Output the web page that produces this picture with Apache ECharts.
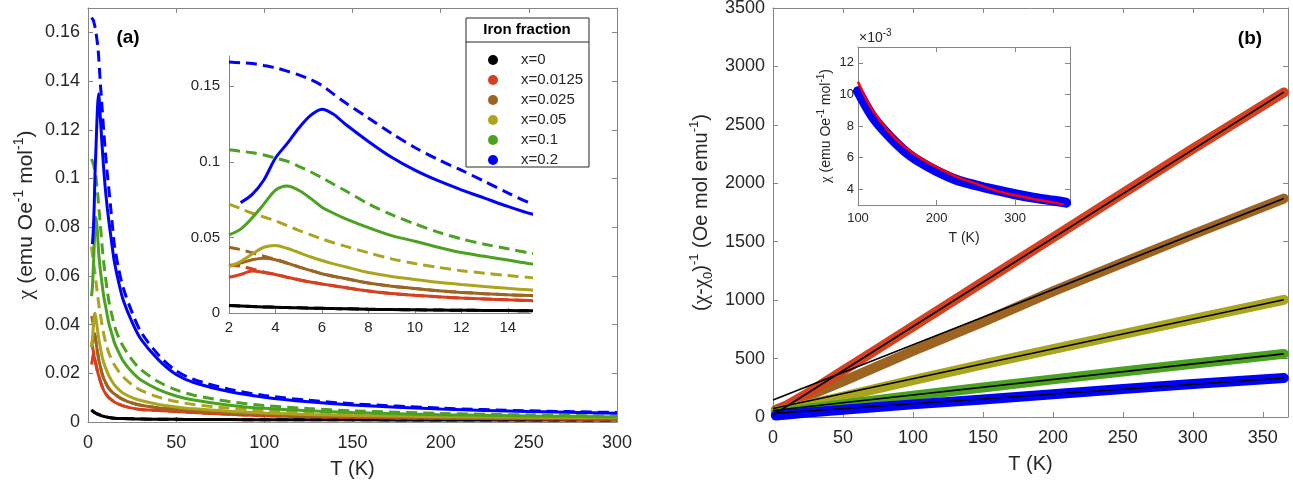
<!DOCTYPE html>
<html>
<head>
<meta charset="utf-8">
<script src="https://cdn.jsdelivr.net/npm/echarts@6/dist/echarts.min.js"></script>
<style>
html, body { margin: 0; padding: 0; background: #fff; }
#chart { width: 1293px; height: 482px; }
</style>
</head>
<body>
<div id="chart"></div>
<script>
// ---- panel (a): chi(T), solid = ZFC, dashed = FC ----
var tempA = [2, 2.5, 3, 3.5, 4, 4.5, 5, 5.5, 6, 6.5, 7, 8, 9, 10, 11, 12, 13, 14, 15, 17.5, 20, 25, 30, 40, 50, 60, 80, 100, 125, 150, 200, 250, 300];

var zfcX0 = [0.0049, 0.0046, 0.0043, 0.0040, 0.0038, 0.0036, 0.0034, 0.0032, 0.0031, 0.0029, 0.0028, 0.0025, 0.0023, 0.0021, 0.0020, 0.0018, 0.0017, 0.0016, 0.0015, 0.0014, 0.0014, 0.0013, 0.0012, 0.0011, 0.0011, 0.0010, 0.0010, 0.0009, 0.0009, 0.0009, 0.0008, 0.0008, 0.0008];
var fcX0 = [0.0050, 0.0046, 0.0043, 0.0040, 0.0038, 0.0036, 0.0034, 0.0032, 0.0031, 0.0029, 0.0028, 0.0025, 0.0023, 0.0021, 0.0020, 0.0018, 0.0017, 0.0016, 0.0015, 0.0014, 0.0014, 0.0013, 0.0012, 0.0011, 0.0011, 0.0010, 0.0010, 0.0009, 0.0009, 0.0009, 0.0008, 0.0008, 0.0008];

var zfcX0125 = [0.0236, 0.0255, 0.0278, 0.0268, 0.0255, 0.0237, 0.0220, 0.0205, 0.0192, 0.0180, 0.0168, 0.0146, 0.0129, 0.0117, 0.0107, 0.0099, 0.0093, 0.0087, 0.0082, 0.0073, 0.0066, 0.0057, 0.0051, 0.0047, 0.0043, 0.0039, 0.0032, 0.0026, 0.0022, 0.0019, 0.0015, 0.0013, 0.0011];
var fcX0125 = [0.0318, 0.0310, 0.0292, 0.0272, 0.0255, 0.0237, 0.0220, 0.0205, 0.0192, 0.0180, 0.0168, 0.0146, 0.0129, 0.0117, 0.0107, 0.0099, 0.0093, 0.0087, 0.0082, 0.0073, 0.0066, 0.0057, 0.0051, 0.0047, 0.0043, 0.0039, 0.0032, 0.0026, 0.0022, 0.0019, 0.0015, 0.0013, 0.0011];

var zfcX025 = [0.0310, 0.0330, 0.0352, 0.0362, 0.0352, 0.0330, 0.0305, 0.0282, 0.0260, 0.0243, 0.0228, 0.0198, 0.0177, 0.0162, 0.0147, 0.0136, 0.0128, 0.0121, 0.0115, 0.0102, 0.0092, 0.0078, 0.0069, 0.0058, 0.0052, 0.0046, 0.0037, 0.0031, 0.0026, 0.0023, 0.0018, 0.0015, 0.0013];
var fcX025 = [0.0435, 0.0420, 0.0398, 0.0375, 0.0356, 0.0330, 0.0305, 0.0282, 0.0260, 0.0243, 0.0228, 0.0198, 0.0177, 0.0162, 0.0147, 0.0136, 0.0128, 0.0121, 0.0115, 0.0102, 0.0092, 0.0078, 0.0069, 0.0058, 0.0052, 0.0046, 0.0037, 0.0031, 0.0026, 0.0023, 0.0018, 0.0015, 0.0013];

var zfcX05 = [0.0307, 0.0340, 0.0390, 0.0435, 0.0447, 0.0428, 0.0400, 0.0372, 0.0347, 0.0325, 0.0306, 0.0268, 0.0242, 0.0222, 0.0203, 0.0188, 0.0175, 0.0163, 0.0152, 0.0133, 0.0118, 0.0100, 0.0088, 0.0072, 0.0062, 0.0054, 0.0044, 0.0037, 0.0031, 0.0027, 0.0022, 0.0019, 0.0017];
var fcX05 = [0.0720, 0.0690, 0.0660, 0.0635, 0.0610, 0.0578, 0.0547, 0.0518, 0.0490, 0.0465, 0.0442, 0.0398, 0.0358, 0.0327, 0.0302, 0.0280, 0.0263, 0.0248, 0.0234, 0.0207, 0.0185, 0.0153, 0.0130, 0.0102, 0.0084, 0.0072, 0.0057, 0.0047, 0.0039, 0.0033, 0.0026, 0.0022, 0.0019];

var zfcX1 = [0.0517, 0.0555, 0.0630, 0.0720, 0.0812, 0.0840, 0.0812, 0.0760, 0.0700, 0.0660, 0.0625, 0.0565, 0.0512, 0.0475, 0.0435, 0.0400, 0.0375, 0.0350, 0.0325, 0.0285, 0.0250, 0.0205, 0.0172, 0.0133, 0.0107, 0.0090, 0.0069, 0.0056, 0.0046, 0.0039, 0.0030, 0.0025, 0.0021];
var fcX1 = [0.1080, 0.1070, 0.1060, 0.1045, 0.1025, 0.1005, 0.0970, 0.0935, 0.0895, 0.0852, 0.0810, 0.0722, 0.0650, 0.0590, 0.0535, 0.0490, 0.0455, 0.0425, 0.0395, 0.0345, 0.0310, 0.0255, 0.0215, 0.0165, 0.0132, 0.0110, 0.0084, 0.0068, 0.0055, 0.0046, 0.0035, 0.0029, 0.0024];

var zfcX2 = [null, 0.0730, 0.0785, 0.0880, 0.1025, 0.1120, 0.1222, 0.1305, 0.1348, 0.1315, 0.1250, 0.1135, 0.1030, 0.0945, 0.0875, 0.0815, 0.0760, 0.0705, 0.0656, 0.0570, 0.0500, 0.0410, 0.0340, 0.0255, 0.0195, 0.0162, 0.0125, 0.0102, 0.0083, 0.0070, 0.0053, 0.0043, 0.0036];
var fcX2 = [0.1660, 0.1655, 0.1650, 0.1637, 0.1622, 0.1600, 0.1575, 0.1545, 0.1505, 0.1448, 0.1392, 0.1290, 0.1188, 0.1095, 0.1015, 0.0945, 0.0870, 0.0795, 0.0726, 0.0625, 0.0550, 0.0450, 0.0370, 0.0275, 0.0210, 0.0175, 0.0135, 0.0109, 0.0089, 0.0075, 0.0057, 0.0046, 0.0039];

var fractions = ['x=0', 'x=0.0125', 'x=0.025', 'x=0.05', 'x=0.1', 'x=0.2'];

var insetATicksX = [2, 4, 6, 8, 10, 12, 14];
var insetATicksY = [0, 0.05, 0.1, 0.15];

// ---- panel (b): inverse susceptibility and linear fits ----
var tempB = [2, 10, 25, 50, 75, 100, 150, 200, 250, 300, 365];
var invX0125 = [50, 100, 205, 395, 585, 775, 1155, 1535, 1915, 2295, 2777];
var invX025 = [60, 100, 180, 305, 435, 565, 815, 1075, 1320, 1562, 1869];
var invX05 = [45, 65, 105, 175, 245, 315, 450, 580, 710, 838, 1003];
var invX1 = [30, 45, 70, 108, 145, 183, 253, 322, 390, 455, 540];
var invX2 = [12, 22, 38, 62, 85, 108, 150, 195, 240, 283, 334];

var fitT = [0, 365];
var fitX0125 = [17, 2780];
var fitX025 = [146, 1869];
var fitX05 = [72, 1003];
var fitX1 = [55, 540];
var fitX2 = [30, 334];

// inset (b): chi in units of 1e-3
var tempC = [100, 110, 120, 140, 160, 180, 200, 225, 250, 275, 300, 325, 350, 365];
var chiC = [10.2, 9.3, 8.5, 7.35, 6.4, 5.7, 5.15, 4.6, 4.25, 3.95, 3.68, 3.45, 3.27, 3.15];
var fitTempC = [100, 110, 120, 140, 160, 180, 200, 225, 250, 275, 300, 325, 350, 362];
var fitChiC = [10.8, 9.75, 8.9, 7.6, 6.65, 5.95, 5.4, 4.8, 4.35, 3.92, 3.62, 3.37, 3.15, 3.03];

var insetBTicksY = [4, 6, 8, 10, 12];
var insetBTicksX = [100, 200, 300];

var colors = ['#000000', '#d6401e', '#9c6420', '#aaa41e', '#4aa220', '#0000ff'];
var font = 'Liberation Sans';
var axisGray = '#858585';
var textDark = '#262626';

function pairs(xs, ys) {
    return xs.map(function (x, i) { return [x, ys[i]]; });
}

function axis(grid, position, o) {
    var a = {
        type: 'value',
        gridIndex: grid,
        position: position,
        min: o.min,
        max: o.max,
        splitLine: { show: false },
        axisLine: { show: true, onZero: false, lineStyle: { color: axisGray, width: 1 } },
        axisTick: { show: true, inside: true, length: 5, lineStyle: { color: axisGray } },
        axisLabel: {
            show: !!o.labels,
            fontSize: o.fontSize || 18,
            fontFamily: font,
            color: textDark,
            margin: o.margin || 8,
            showMaxLabel: o.showMax === false ? false : true,
            showMinLabel: true,
            formatter: function (v) { return String(v); }
        }
    };
    if (o.interval) a.interval = o.interval;
    if (o.ticks) {
        a.axisTick.customValues = o.ticks;
        a.axisLabel.customValues = o.ticks;
    }
    if (o.name) {
        a.name = o.name;
        a.nameLocation = 'middle';
        a.nameGap = o.nameGap;
        a.nameTextStyle = o.nameStyle;
    }
    return a;
}

function nameStyle(size, supSize, shift) {
    return {
        fontSize: size,
        fontFamily: font,
        color: textDark,
        rich: {
            chi: { fontSize: size + 1, fontFamily: 'Liberation Serif', color: textDark },
            sup: { fontSize: supSize, fontFamily: font, color: textDark, padding: [0, 0, shift, 0] },
            sub: { fontSize: supSize, fontFamily: font, color: textDark, padding: [shift, 0, 0, 0] }
        }
    };
}

var chiName = '{chi|χ} (emu Oe{sup|-1} mol{sup|-1})';
var tName = { fontSize: 20, fontFamily: font, color: textDark };

var xAxes = [
    axis(0, 'bottom', { min: 0, max: 300, interval: 50, labels: true, margin: 12, name: 'T (K)', nameGap: 37, nameStyle: tName }),
    axis(0, 'top', { min: 0, max: 300, interval: 50 }),
    axis(1, 'bottom', { min: 2, max: 15, ticks: insetATicksX, labels: true, fontSize: 15, margin: 7 }),
    axis(2, 'bottom', { min: 0, max: 368, interval: 50, labels: true, margin: 12, showMax: false, name: 'T (K)', nameGap: 37, nameStyle: tName }),
    axis(2, 'top', { min: 0, max: 368, interval: 50 }),
    axis(3, 'bottom', { min: 100, max: 370, ticks: insetBTicksX, labels: true, fontSize: 13, margin: 7, name: 'T (K)', nameGap: 26, nameStyle: { fontSize: 14, fontFamily: font, color: textDark } }),
    axis(3, 'top', { min: 100, max: 370, ticks: insetBTicksX })
];

var yAxes = [
    axis(0, 'left', { min: 0, max: 0.17, interval: 0.02, labels: true, showMax: false, name: chiName, nameGap: 48, nameStyle: nameStyle(21, 14, 14) }),
    axis(0, 'right', { min: 0, max: 0.17, interval: 0.02 }),
    axis(1, 'left', { min: 0, max: 0.17, ticks: insetATicksY, labels: true, fontSize: 15, margin: 9 }),
    axis(2, 'left', { min: 0, max: 3500, interval: 500, labels: true, name: '({chi|χ}-{chi|χ}{sub|0}){sup|-1} (Oe mol emu{sup|-1})', nameGap: 58, nameStyle: nameStyle(20, 13, 14) }),
    axis(2, 'right', { min: 0, max: 3500, interval: 500 }),
    axis(3, 'left', { min: 3, max: 13, ticks: insetBTicksY, labels: true, fontSize: 13, margin: 4, name: chiName, nameGap: 22, nameStyle: nameStyle(14, 10, 10) }),
    axis(3, 'right', { min: 3, max: 13, ticks: insetBTicksY })
];

var series = [];
var zfc = [zfcX0, zfcX0125, zfcX025, zfcX05, zfcX1, zfcX2];
var fc = [fcX0, fcX0125, fcX025, fcX05, fcX1, fcX2];

function chiLine(name, values, color, dashed, axisIdx) {
    return {
        type: 'line',
        name: name,
        xAxisIndex: axisIdx,
        yAxisIndex: axisIdx,
        data: pairs(tempA, values),
        symbol: 'none',
        smooth: 0.3,
        silent: true,
        itemStyle: { color: color },
        lineStyle: { color: color, width: 3, type: dashed ? [11, 6] : 'solid' }
    };
}

// main panel on axes 0, inset on axes 2
fractions.forEach(function (name, k) {
    series.push(chiLine(name, zfc[k], colors[k], false, 0));
    series.push(chiLine(name + ' FC', fc[k], colors[k], true, 0));
});
fractions.forEach(function (name, k) {
    series.push(chiLine(name + ' inset', zfc[k], colors[k], false, 2));
    series.push(chiLine(name + ' inset FC', fc[k], colors[k], true, 2));
});

var inv = [invX025, invX0125, invX05, invX1, invX2];
var invColors = [colors[2], colors[1], colors[3], colors[4], colors[5]];
inv.forEach(function (values, k) {
    series.push({
        type: 'line', xAxisIndex: 3, yAxisIndex: 3, data: pairs(tempB, values),
        symbol: 'none', silent: true,
        lineStyle: { color: invColors[k], width: 10, cap: 'round', join: 'round' }
    });
});
[fitX0125, fitX025, fitX05, fitX1, fitX2].forEach(function (values) {
    series.push({
        type: 'line', xAxisIndex: 3, yAxisIndex: 3, data: pairs(fitT, values),
        symbol: 'none', silent: true,
        lineStyle: { color: '#000', width: 1.6 }
    });
});

series.push({
    type: 'line', xAxisIndex: 5, yAxisIndex: 5, data: pairs(tempC, chiC),
    symbol: 'none', smooth: 0.3, silent: true,
    lineStyle: { color: colors[5], width: 10, cap: 'round', join: 'round' }
});
series.push({
    type: 'line', xAxisIndex: 5, yAxisIndex: 5, data: pairs(fitTempC, fitChiC),
    symbol: 'none', smooth: 0.3, silent: true,
    lineStyle: { color: '#ff0000', width: 2.5 }
});

var option = {
    animation: false,
    backgroundColor: '#fff',
    grid: [
        { left: 88, top: 8, width: 529, height: 414, containLabel: false, outerBoundsMode: 'none' },
        { left: 229, top: 56, width: 302, height: 257, containLabel: false, outerBoundsMode: 'none' },
        { left: 773, top: 8, width: 515, height: 409, containLabel: false, outerBoundsMode: 'none' },
        { left: 858, top: 47, width: 212, height: 158, containLabel: false, outerBoundsMode: 'none' }
    ],
    xAxis: xAxes,
    yAxis: yAxes,
    legend: {
        data: fractions,
        orient: 'vertical',
        left: 483,
        top: 45,
        icon: 'circle',
        itemWidth: 24,
        itemHeight: 10,
        itemGap: 0,
        selectedMode: false,
        z: 20,
        textStyle: { fontSize: 15, fontFamily: font, color: textDark, lineHeight: 20, padding: [0, 0, 0, 11] }
    },
    graphic: [
        { type: 'rect', z: 10, shape: { x: 466, y: 18, width: 123, height: 149 }, style: { fill: '#fff', stroke: '#262626', lineWidth: 1 } },
        { type: 'line', z: 11, shape: { x1: 466, y1: 42, x2: 589, y2: 42 }, style: { stroke: '#262626', lineWidth: 1 } },
        { type: 'text', z: 11, x: 527, y: 30, style: { text: 'Iron fraction', fontSize: 15, fontWeight: 'bold', fontFamily: font, fill: '#000', align: 'center', verticalAlign: 'middle' } },
        { type: 'text', z: 11, x: 128, y: 38, style: { text: '(a)', fontSize: 19, fontWeight: 'bold', fontFamily: font, fill: '#000', align: 'center', verticalAlign: 'middle' } },
        { type: 'text', z: 11, x: 1250, y: 39, style: { text: '(b)', fontSize: 19, fontWeight: 'bold', fontFamily: font, fill: '#000', align: 'center', verticalAlign: 'middle' } },
        { type: 'text', z: 11, x: 859, y: 38, style: {
            text: '×10{sup|-3}', fontSize: 14, fontFamily: font, fill: textDark, align: 'left', verticalAlign: 'middle',
            rich: { sup: { fontSize: 10, fontFamily: font, fill: textDark, padding: [0, 0, 10, 0] } }
        } }
    ],
    series: series
};

var chart = echarts.init(document.getElementById('chart'));
chart.setOption(option);
</script>
</body>
</html>
